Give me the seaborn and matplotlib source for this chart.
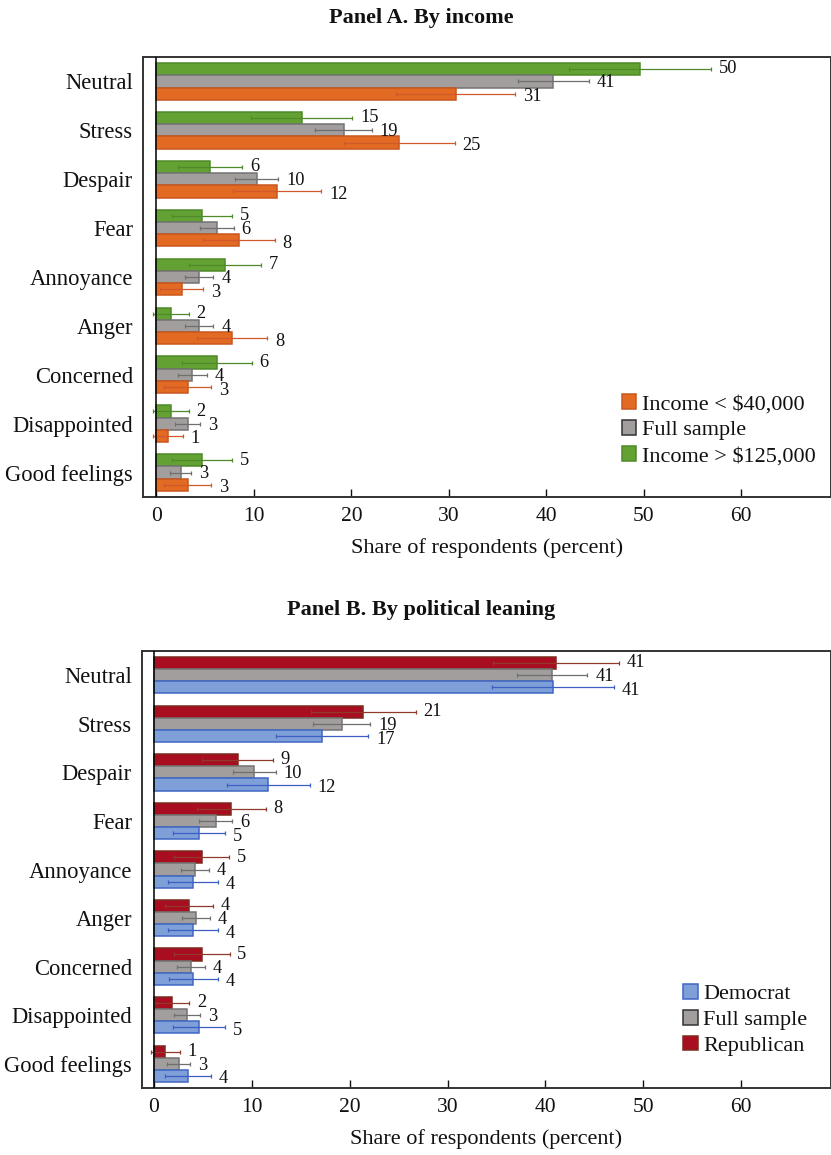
import numpy as np
import pandas as pd
import matplotlib
matplotlib.use("Agg")
import matplotlib.pyplot as plt
import seaborn as sns

# Emotion categories, listed top to bottom
categories = ["Neutral", "Stress", "Despair", "Fear", "Annoyance", "Anger",
              "Concerned", "Disappointed", "Good feelings"]

# Panel A: share of respondents by income (percent) and 95% CI half-widths
inc_low = [30.7, 24.9, 12.4, 8.45, 2.6, 7.8, 3.2, 1.2, 3.2]
inc_low_ci = [6.1, 5.7, 4.5, 3.7, 2.2, 3.6, 2.4, 1.5, 2.4]
full_a = [40.7, 19.2, 10.3, 6.2, 4.4, 4.4, 3.7, 3.2, 2.5]
full_a_ci = [3.65, 2.9, 2.2, 1.75, 1.45, 1.45, 1.45, 1.3, 1.1]
inc_high = [49.6, 14.9, 5.5, 4.7, 7.0, 1.5, 6.2, 1.5, 4.7]
inc_high_ci = [7.3, 5.2, 3.3, 3.1, 3.7, 1.8, 3.6, 1.8, 3.1]

# Panel B: share of respondents by political leaning (percent)
dem = [40.8, 17.2, 11.7, 4.6, 4.0, 4.0, 4.0, 4.6, 3.5]
dem_ci = [6.25, 4.7, 4.2, 2.7, 2.55, 2.55, 2.5, 2.7, 2.35]
full_b = [40.7, 19.2, 10.25, 6.3, 4.2, 4.26, 3.75, 3.4, 2.52]
full_b_ci = [3.6, 2.9, 2.2, 1.7, 1.45, 1.45, 1.45, 1.35, 1.15]
rep = [41.1, 21.4, 8.55, 7.9, 4.87, 3.6, 4.87, 1.8, 1.16]
rep_ci = [6.4, 5.35, 3.6, 3.5, 2.8, 2.45, 2.85, 1.8, 1.5]

x_ticks = [0, 10, 20, 30, 40, 50, 60]

SERIF = ["Liberation Serif", "DejaVu Serif"]
sns.set_theme(style="white")
plt.rcParams["font.family"] = SERIF
plt.rcParams["font.serif"] = SERIF

W, H = 831, 1155
fig = plt.figure(figsize=(W / 100, H / 100), dpi=100)

# vertical nudge (points) of the value labels for top / middle / bottom bar
LABEL_DY = [0.2, -1.0, -2.2]


def make_frame(groups):
    rows = []
    for name, vals, cis in groups:
        for c, v, e in zip(categories, vals, cis):
            rows.append({"category": c, "group": name, "value": v, "ci": e})
    return pd.DataFrame(rows)


def draw_panel(ax, groups, styles, legend_order, legend_anchor, xlim):
    df = make_frame(groups)
    hue_order = [g[0] for g in groups]
    palette = {k: styles[k][0] for k in hue_order}
    sns.barplot(data=df, x="value", y="category", hue="group", order=categories,
                hue_order=hue_order, palette=palette, errorbar=None, width=0.75,
                saturation=1, linewidth=1.1, ax=ax, legend=False, zorder=2)
    handles = {}
    for k, (name, cont) in enumerate(zip(hue_order, ax.containers)):
        fill, edge, err = styles[name]
        sub = df[df["group"] == name].set_index("category").loc[categories]
        ys, xs, es = [], [], []
        for bar, (cat, row) in zip(cont.patches, sub.iterrows()):
            bar.set_edgecolor(edge)
            ys.append(bar.get_y() + bar.get_height() / 2)
            xs.append(bar.get_width())
            es.append(row["ci"])
        ax.errorbar(xs, ys, xerr=es, fmt="none", ecolor=err, elinewidth=0.9,
                    capsize=1.6, capthick=0.9, zorder=3)
        for x, y, e, v in zip(xs, ys, es, sub["value"]):
            ax.annotate(f"{int(np.floor(v + 0.5))}", xy=(x + e, y),
                        xytext=(5.6, LABEL_DY[k]), textcoords="offset points",
                        va="center", ha="left", fontsize=13.2, color="#111111")
        handles[name] = plt.Rectangle((0, 0), 1, 1, facecolor=fill,
                                      edgecolor=edge if name != "Full sample" else "#333333",
                                      linewidth=1.1)
    ax.axvline(0, color="black", lw=1.1, zorder=4)
    ax.set_xlim(*xlim)
    ax.set_ylim(8.5, -0.5)
    ax.set_xticks(x_ticks)
    ax.set_xticklabels([str(t) for t in x_ticks])
    ax.tick_params(axis="x", direction="in", length=6, width=1.0, pad=7,
                   labelsize=15.5, colors="#111111", bottom=True)
    ax.tick_params(axis="y", length=0, pad=7, labelsize=16.3, colors="#111111")
    ax.set_ylabel("")
    ax.set_xlabel("Share of respondents (percent)", fontsize=16, labelpad=9,
                  color="#111111")
    for s in ax.spines.values():
        s.set_visible(True)
        s.set_color("#333333")
        s.set_linewidth(1.4)
    leg = ax.legend([handles[k] for k in legend_order], legend_order,
                    loc="upper left", bbox_to_anchor=legend_anchor,
                    frameon=False, fontsize=16, handlelength=0.65,
                    handleheight=0.65, handletextpad=0.25, labelspacing=0.25,
                    borderaxespad=0, borderpad=0)
    for t in leg.get_texts():
        t.set_color("#111111")


# Panel A
axA = fig.add_axes([142.7 / W, 1 - 497 / H, (831 - 142.7) / W, (497 - 57) / H])
stylesA = {
    "Income > $125,000": ("#63A133", "#4E8A2A", "#4E8A2A"),
    "Full sample": ("#A19E9D", "#737373", "#6F6F6F"),
    "Income < $40,000": ("#E36A23", "#C8571E", "#D0582A"),
}
draw_panel(axA,
           [("Income > $125,000", inc_high, inc_high_ci),
            ("Full sample", full_a, full_a_ci),
            ("Income < $40,000", inc_low, inc_low_ci)],
           stylesA,
           ["Income < $40,000", "Full sample", "Income > $125,000"],
           (0.696, 0.233), (-1.4, 69.2))

# Panel B
axB = fig.add_axes([141.7 / W, 1 - 1088 / H, (831 - 141.7) / W, (1088 - 651) / H])
stylesB = {
    "Republican": ("#A80D20", "#7B2A1E", "#8F3A2A"),
    "Full sample": ("#A19E9D", "#737373", "#6F6F6F"),
    "Democrat": ("#7E9FD8", "#3F67C4", "#3D5FC4"),
}
draw_panel(axB,
           [("Republican", rep, rep_ci),
            ("Full sample", full_b, full_b_ci),
            ("Democrat", dem, dem_ci)],
           stylesB,
           ["Democrat", "Full sample", "Republican"],
           (0.786, 0.238), (-1.26, 69.2))

fig.text(421 / W, 1 - 18 / H, "Panel A. By income", ha="center", va="center",
         fontsize=16, fontweight="bold", color="#111111")
fig.text(421 / W, 1 - 610 / H, "Panel B. By political leaning", ha="center",
         va="center", fontsize=16, fontweight="bold", color="#111111")

fig.savefig("out.png", dpi=100, facecolor="white")
